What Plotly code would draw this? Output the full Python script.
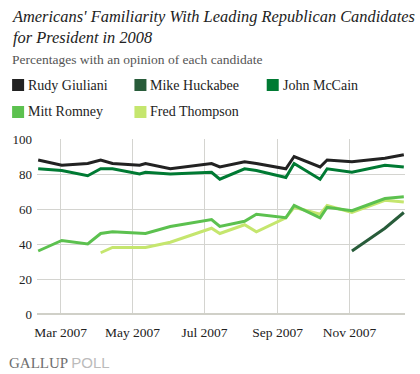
import plotly.graph_objects as go

# ---- data ----
poll_dates = ['2007-02-10', '2007-03-02', '2007-03-24', '2007-04-04', '2007-04-14',
              '2007-05-07', '2007-05-12', '2007-06-02', '2007-07-07', '2007-07-14',
              '2007-08-04', '2007-08-14', '2007-09-08', '2007-09-15', '2007-10-07',
              '2007-10-13', '2007-11-03', '2007-12-01', '2007-12-17']
giuliani = [88, 85, 86, 88, 86, 85, 86, 83, 86, 84, 87, 86, 83, 90, 84, 88, 87, 89, 91]
huckabee = [None] * 16 + [36, 49, 58]
mccain = [83, 82, 79, 83, 83, 80, 81, 80, 81, 77, 83, 82, 78, 86, 77, 83, 81, 85, 84]
romney = [36, 42, 40, 46, 47, 46, 46, 50, 54, 50, 53, 57, 55, 62, 55, 61, 59, 66, 67]
thompson = [None, None, None, 35, 38, 38, 38, 41, 49, 46, 51, 47, 55, 61, 57, 62, 58, 65, 64]

series_names = ['Rudy Giuliani', 'Mike Huckabee', 'John McCain', 'Mitt Romney', 'Fred Thompson']
series_values = [giuliani, huckabee, mccain, romney, thompson]
series_colors = ['#222222', '#285c3a', '#007a33', '#5cc14f', '#c5e66e']

y_ticks = [0, 20, 40, 60, 80, 100]
x_ticks = ['2007-03-01', '2007-05-01', '2007-07-01', '2007-09-01', '2007-11-01']
x_tick_labels = ['Mar 2007', 'May 2007', 'Jul 2007', 'Sep 2007', 'Nov 2007']

title_text = "Americans' Familiarity With Leading Republican Candidates<br>for President in 2008"
subtitle_text = "Percentages with an opinion of each candidate"

# ---- layout geometry (pixels) ----
W, H = 420, 374
L, R, T, B = 35, 15, 139, 60
PW, PH = W - L - R, H - T - B

def px(x):
    return (x - L) / PW

def py(y):
    return (H - B - y) / PH

SERIF = "Liberation Serif"

fig = go.Figure()
for i in [4, 3, 1, 2, 0]:
    fig.add_trace(go.Scatter(
        x=poll_dates, y=series_values[i], name=series_names[i], mode='lines',
        line=dict(color=series_colors[i], width=3), connectgaps=False,
        showlegend=False, hoverinfo='x+y+name'))

annotations = []
shapes = []
leg_cols = [10, 133, 266]
leg_rows = [85, 112]
for i, name in enumerate(series_names):
    cx = leg_cols[i % 3]
    cy = leg_rows[i // 3]
    shapes.append(dict(type='rect', xref='paper', yref='paper',
                       xsizemode='pixel', ysizemode='pixel',
                       xanchor=px(cx + 6), yanchor=py(cy),
                       x0=-6, x1=6, y0=-6, y1=6,
                       fillcolor=series_colors[i], line=dict(width=0)))
    annotations.append(dict(text=name, xref='paper', yref='paper',
                            x=px(cx + 14), y=py(cy), xanchor='left', yanchor='middle',
                            showarrow=False, font=dict(family=SERIF, size=14, color='#222')))

annotations.append(dict(text='<i>' + title_text + '</i>', xref='paper', yref='paper',
                        x=px(8), y=py(5), xanchor='left', yanchor='top', align='left',
                        showarrow=False,
                        font=dict(family=SERIF, size=16.4, color='#222')))
annotations.append(dict(text=subtitle_text, xref='paper', yref='paper',
                        x=px(8), y=py(59), xanchor='left', yanchor='middle',
                        showarrow=False, font=dict(family=SERIF, size=13.5, color='#555')))
annotations.append(dict(
    text='<span style="font-family:Liberation Serif">GALLUP</span> '
         '<span style="font-family:Liberation Sans;color:#bbbbbb">POLL</span>',
    xref='paper', yref='paper', x=px(5), y=py(362), xanchor='left', yanchor='middle',
    showarrow=False, font=dict(family=SERIF, size=15, color='#6e6e6e')))

fig.update_layout(
    width=W, height=H,
    margin=dict(l=L, r=R, t=T, b=B, pad=0),
    paper_bgcolor='white', plot_bgcolor='white',
    showlegend=False,
    annotations=annotations, shapes=shapes,
    xaxis=dict(type='date', range=['2007-02-09', '2007-12-18'],
               tickvals=x_ticks, ticktext=x_tick_labels,
               showgrid=True, gridcolor='#d4d4d0', gridwidth=1,
               zeroline=False, showline=False, ticks='',
               ticklabelstandoff=8,
               tickfont=dict(family=SERIF, size=13.5, color='#222'),
               fixedrange=True),
    yaxis=dict(range=[0, 100], tickvals=y_ticks,
               showgrid=True, gridcolor='#d4d4d0', gridwidth=1,
               zeroline=True, zerolinecolor='#d0d0c8', zerolinewidth=2,
               showline=False, ticks='', ticklabelstandoff=4,
               tickfont=dict(family=SERIF, size=13, color='#222'),
               fixedrange=True),
)

fig.write_html("out.html", config={'displayModeBar': False},
               post_script="document.body.style.margin='0px';document.body.style.overflow='hidden';")
